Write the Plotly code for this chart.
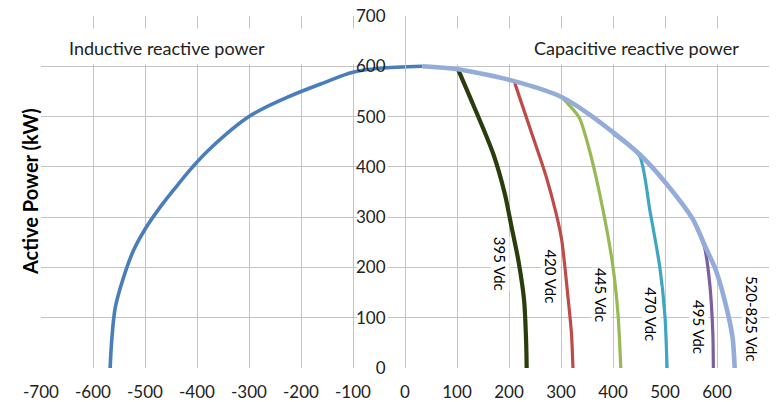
import plotly.graph_objects as go

# ---------------- data ----------------
x_ticks = list(range(-700, 701, 100))
y_ticks = list(range(0, 701, 100))

# Inductive side (main curve)
ind_q = [-567, -564, -557, -541, -522, -500, -475, -445, -410, -375, -300, -227, -154, -100, -50, 33]
ind_p = [0, 55, 121, 181, 234, 276, 314, 354, 398, 436, 500, 538, 568, 588, 596, 600]

# Envelope 520-825 Vdc
env_q = [33, 102, 215, 301, 355, 451, 503, 554, 578, 598, 618, 630, 634]
env_p = [600, 594, 569, 539, 504, 425, 366, 295, 240, 194, 121, 60, 0]

# Branches leaving the envelope
q395 = [102, 131, 170, 192, 205, 218, 229, 233, 234]
p395 = [594, 524, 425, 346, 280, 214, 135, 50, 0]

q420 = [211, 240, 272, 290, 301, 314, 320, 323]
p420 = [567, 478, 379, 310, 257, 135, 70, 0]

q445 = [301, 335, 355, 381, 400, 410, 415]
p445 = [539, 498, 432, 313, 201, 102, 0]

q470 = [400, 451, 471, 490, 500, 504]
p470 = [466, 422, 313, 201, 102, 0]

q495 = [554, 576, 586, 592, 593]
p495 = [295, 240, 168, 69, 0]

labels = ["395 Vdc", "420 Vdc", "445 Vdc", "470 Vdc", "495 Vdc", "520-825 Vdc"]
label_q = [183, 279, 377, 473, 564, 666]
label_p = [207, 182, 145, 107, 81, 97]

region_text = ["Inductive reactive power", "Capacitive reactive power"]
region_q = [-458, 446]
region_p = [637, 637]

FONT = "Lato, 'Open Sans', sans-serif"

fig = go.Figure()

series = [
    (q395, p395, "#2a3e0d", 4.2, 0.8),
    (q420, p420, "#be4b48", 3.2, 0.8),
    (q445, p445, "#98b954", 3.2, 0.6),
    (q470, p470, "#3ea6c2", 3.2, 0.6),
    (q495, p495, "#7d5fa0", 3.2, 0.6),
    (ind_q, ind_p, "#4a7ebb", 3.6, 1.0),
    (env_q, env_p, "#94acd9", 4.6, 0.8),
]
for xs, ys, col, w, sm in series:
    fig.add_trace(go.Scatter(x=xs, y=ys, mode="lines",
                             line=dict(color=col, width=w, shape="spline", smoothing=sm),
                             hoverinfo="skip", showlegend=False))

# curve labels (rotated)
for t, q, p in zip(labels, label_q, label_p):
    fig.add_annotation(x=q, y=p, text=t, showarrow=False, textangle=90,
                       font=dict(family=FONT, size=15, color="#000"),
                       bgcolor="white", borderpad=0)

# region text boxes (white fill hiding gridlines)
shapes = [
    dict(type="rect", xref="x", yref="y", x0=-697, x1=-8, y0=604, y1=675,
         fillcolor="white", line=dict(width=0), layer="between"),
    dict(type="rect", xref="x", yref="y", x0=8, x1=697, y0=604, y1=675,
         fillcolor="white", line=dict(width=0), layer="between"),
]
# white behind y tick labels
for v in y_ticks:
    shapes.append(dict(type="rect", xref="x", yref="y", x0=-92, x1=-33,
                       y0=v - 13, y1=v + 13, fillcolor="white",
                       line=dict(width=0), layer="between"))
fig.update_layout(shapes=shapes)

for t, q, p in zip(region_text, region_q, region_p):
    fig.add_annotation(x=q, y=p, text=t, showarrow=False,
                       font=dict(family=FONT, size=18, color="#222"))

# y-axis title
fig.add_annotation(xref="paper", yref="paper", x=-0.015, y=0.5,
                   xanchor="center", yanchor="middle",
                   text="<b>Active Power (kW)</b>", showarrow=False,
                   textangle=-90, font=dict(family=FONT, size=20, color="#000"))

fig.update_layout(
    width=778, height=402,
    margin=dict(l=41, r=9, t=16, b=34),
    paper_bgcolor="white", plot_bgcolor="white",
    font=dict(family=FONT, size=17, color="#222"),
    xaxis=dict(range=[-700, 700], tickvals=x_ticks, ticktext=[str(v) for v in x_ticks],
               showgrid=True, gridcolor="#c3c3c3", gridwidth=1,
               zeroline=False, showline=False, ticks="", automargin=False,
               ticklabelstandoff=12, fixedrange=True),
    yaxis=dict(range=[0, 700], tickvals=y_ticks, ticktext=[str(v) for v in y_ticks],
               showgrid=True, gridcolor="#c3c3c3", gridwidth=1,
               zeroline=False, showline=True, linecolor="#c3c3c3", linewidth=1,
               anchor="free", position=0.5, ticks="", automargin=False,
               ticklabelstandoff=16, fixedrange=True),
)

fig.write_html("out.html")
